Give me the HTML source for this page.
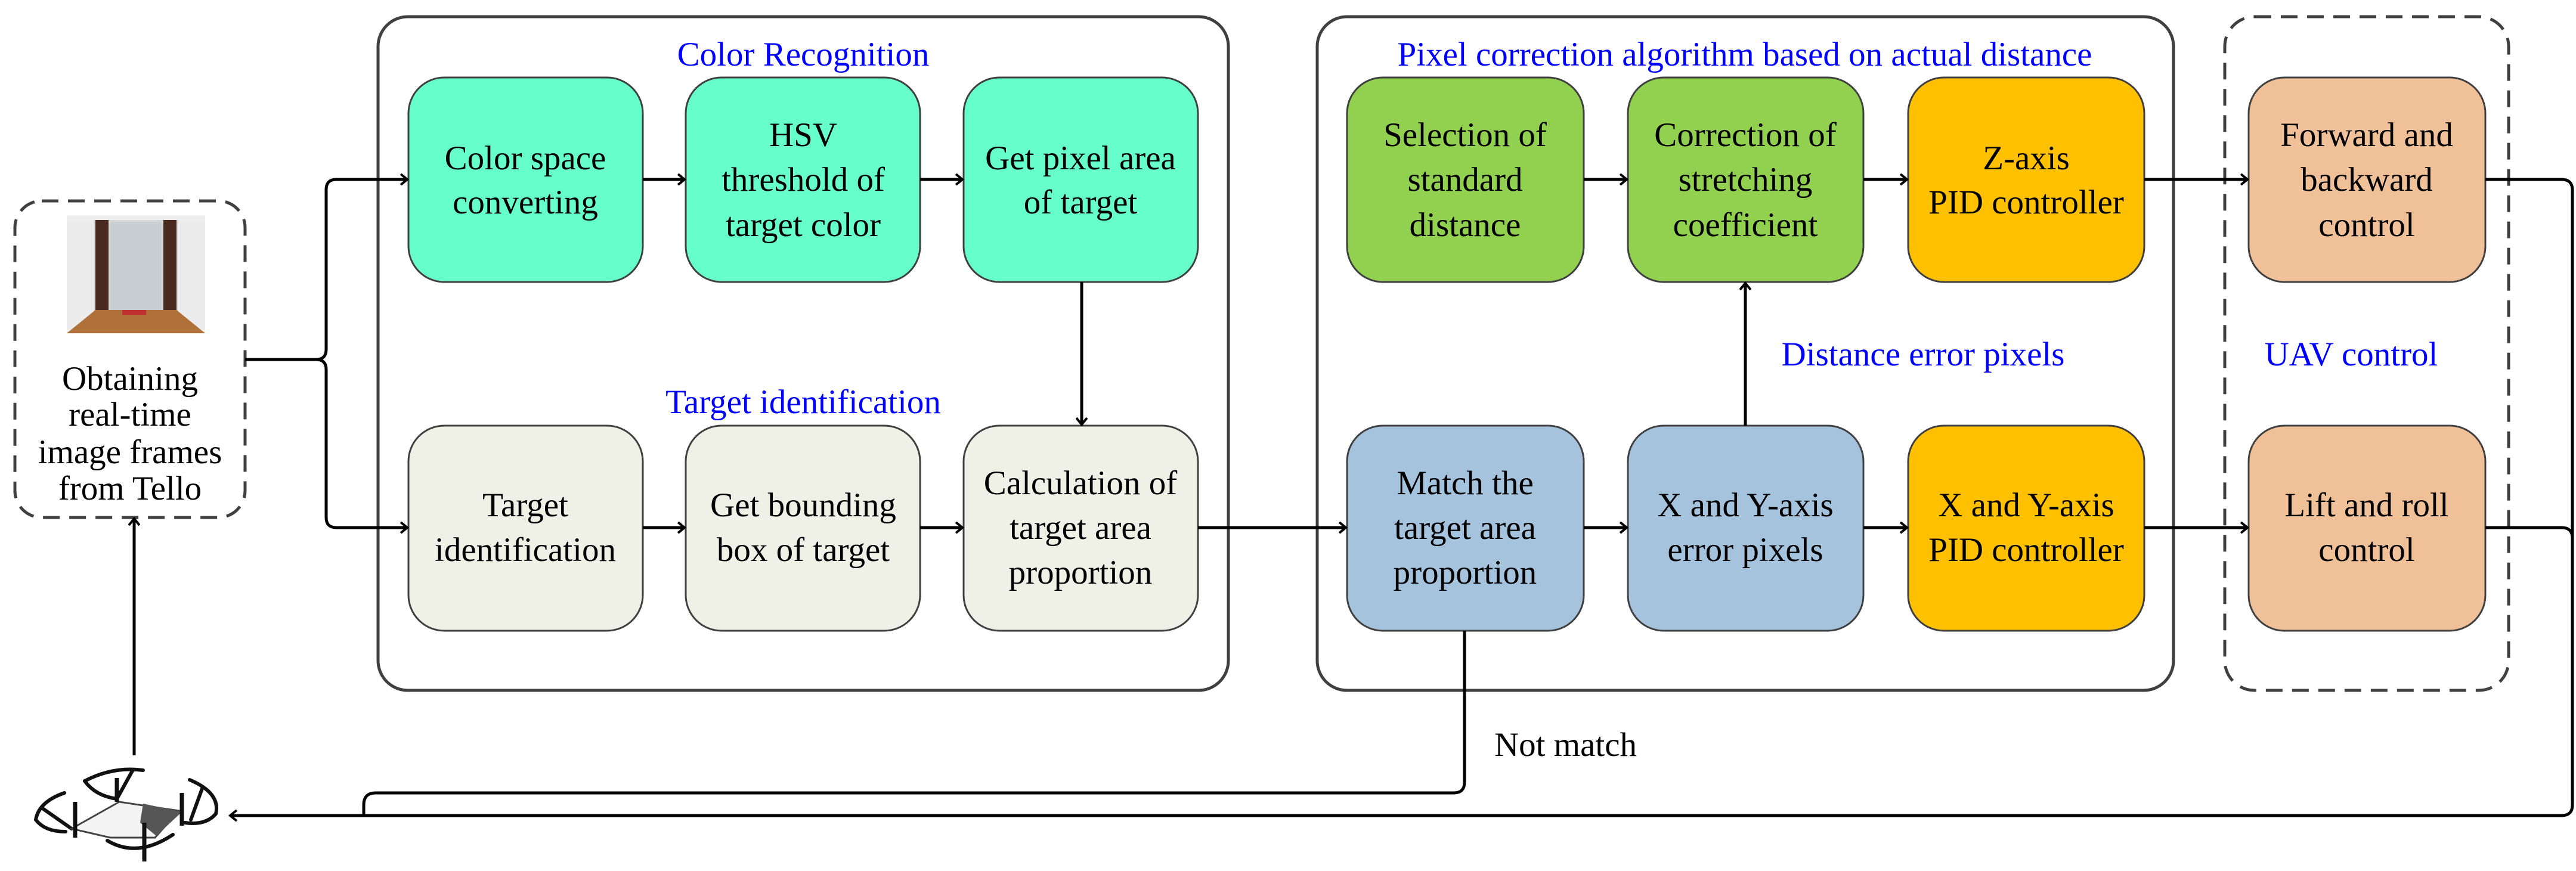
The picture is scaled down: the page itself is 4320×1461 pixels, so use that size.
<!DOCTYPE html>
<html><head><meta charset="utf-8"><style>
html,body{margin:0;padding:0;background:#fff;}
svg{display:block;}
svg text{font-family:"Liberation Serif","Times New Roman","DejaVu Serif",serif;font-size:57px;text-anchor:middle;fill:#000;}
svg text.b{fill:#0000ff;font-size:57px;}
</style></head><body>
<svg width="4320" height="1461" viewBox="0 0 4320 1461" xmlns="http://www.w3.org/2000/svg" font-family="Liberation Serif, Times New Roman, DejaVu Serif, serif">
<defs>
<marker id="a" markerWidth="16" markerHeight="20" refX="13" refY="10" orient="auto" markerUnits="userSpaceOnUse">
<path d="M2,1 L13,10 L2,19" fill="none" stroke="#000" stroke-width="4"/>
</marker>
</defs>
<rect x="634" y="28" width="1426" height="1130" rx="50" fill="none" stroke="#404040" stroke-width="5"/>
<rect x="2209" y="28" width="1436" height="1130" rx="50" fill="none" stroke="#404040" stroke-width="5"/>
<rect x="3731" y="28" width="476" height="1130" rx="50" fill="none" stroke="#404040" stroke-width="5" stroke-dasharray="28,16"/>
<rect x="25" y="337" width="386" height="531" rx="45" fill="none" stroke="#404040" stroke-width="5" stroke-dasharray="28,16"/>
<rect x="112" y="361" width="232" height="198" fill="#d8d8d8"/>
<rect x="112" y="361" width="232" height="8" fill="#eee"/>
<rect x="112" y="369" width="45" height="190" fill="#ececec"/>
<rect x="299" y="369" width="45" height="190" fill="#ececec"/>
<rect x="160" y="369" width="22" height="165" fill="#4a2a1e"/>
<rect x="274" y="369" width="22" height="165" fill="#4a2a1e"/>
<rect x="185" y="372" width="86" height="160" fill="#c8ced2"/>
<polygon points="112,559 344,559 296,520 160,520" fill="#b0703a"/>
<rect x="205" y="520" width="40" height="8" fill="#c03030"/>
<text class="b" x="1347" y="110">Color Recognition</text>
<text class="b" x="1347" y="693">Target identification</text>
<text class="b" x="2926" y="110">Pixel correction algorithm based on actual distance</text>
<text class="b" x="3225" y="613">Distance error pixels</text>
<text class="b" x="3943" y="613">UAV control</text>
<text x="218" y="654">Obtaining</text>
<text x="218" y="714">real-time</text>
<text x="218" y="777">image frames</text>
<text x="218" y="838">from Tello</text>
<g stroke="#404040" stroke-width="3">
<rect x="685" y="130" width="393" height="343" rx="60" fill="#66ffcc"/>
<rect x="1150" y="130" width="393" height="343" rx="60" fill="#66ffcc"/>
<rect x="1616" y="130" width="393" height="343" rx="60" fill="#66ffcc"/>
<rect x="685" y="714" width="393" height="344" rx="60" fill="#eff1e7"/>
<rect x="1150" y="714" width="393" height="344" rx="60" fill="#eff1e7"/>
<rect x="1616" y="714" width="393" height="344" rx="60" fill="#eff1e7"/>
<rect x="2259" y="130" width="397" height="343" rx="60" fill="#92d050"/>
<rect x="2730" y="130" width="395" height="343" rx="60" fill="#92d050"/>
<rect x="3200" y="130" width="396" height="343" rx="60" fill="#ffc000"/>
<rect x="2259" y="714" width="397" height="344" rx="60" fill="#a6c3de"/>
<rect x="2730" y="714" width="395" height="344" rx="60" fill="#a6c3de"/>
<rect x="3200" y="714" width="396" height="344" rx="60" fill="#ffc000"/>
<rect x="3771" y="130" width="397" height="343" rx="60" fill="#f0c098"/>
<rect x="3771" y="714" width="397" height="344" rx="60" fill="#f0c098"/>
</g>
<text x="881" y="284">Color space</text><text x="881" y="358">converting</text>
<text x="1347" y="245">HSV</text><text x="1347" y="320">threshold of</text><text x="1347" y="396">target color</text>
<text x="1812" y="284">Get pixel area</text><text x="1812" y="358">of target</text>
<text x="881" y="866">Target</text><text x="881" y="941">identification</text>
<text x="1347" y="866">Get bounding</text><text x="1347" y="941">box of target</text>
<text x="1812" y="829">Calculation of</text><text x="1812" y="904">target area</text><text x="1812" y="979">proportion</text>
<text x="2457" y="245">Selection of</text><text x="2457" y="320">standard</text><text x="2457" y="396">distance</text>
<text x="2927" y="245">Correction of</text><text x="2927" y="320">stretching</text><text x="2927" y="396">coefficient</text>
<text x="3398" y="284">Z-axis</text><text x="3398" y="358">PID controller</text>
<text x="2457" y="829">Match the</text><text x="2457" y="904">target area</text><text x="2457" y="979">proportion</text>
<text x="2927" y="866">X and Y-axis</text><text x="2927" y="941">error pixels</text>
<text x="3398" y="866">X and Y-axis</text><text x="3398" y="941">PID controller</text>
<text x="3969" y="245">Forward and</text><text x="3969" y="320">backward</text><text x="3969" y="396">control</text>
<text x="3969" y="866">Lift and roll</text><text x="3969" y="941">control</text>
<text x="2506" y="1268" style="text-anchor:start">Not match</text>
<g fill="none" stroke="#000" stroke-width="5">
<path d="M411,603 H530 Q547,603 547,586 V318 Q547,301 564,301 H683" marker-end="url(#a)"/>
<path d="M530,603 Q547,603 547,620 V868 Q547,885 564,885 H683" marker-end="url(#a)"/>
<path d="M1078,301 H1148" marker-end="url(#a)"/>
<path d="M1543,301 H1614" marker-end="url(#a)"/>
<path d="M1078,885 H1148" marker-end="url(#a)"/>
<path d="M1543,885 H1614" marker-end="url(#a)"/>
<path d="M1814,473 V712" marker-end="url(#a)"/>
<path d="M2009,885 H2257" marker-end="url(#a)"/>
<path d="M2656,301 H2728" marker-end="url(#a)"/>
<path d="M3125,301 H3198" marker-end="url(#a)"/>
<path d="M2656,885 H2728" marker-end="url(#a)"/>
<path d="M3125,885 H3198" marker-end="url(#a)"/>
<path d="M2927,714 V475" marker-end="url(#a)"/>
<path d="M3596,301 H3769" marker-end="url(#a)"/>
<path d="M3596,885 H3769" marker-end="url(#a)"/>
<path d="M4168,301 H4296 Q4314,301 4314,319 V1350 Q4314,1368 4296,1368 H386" marker-end="url(#a)"/>
<path d="M4168,885 H4296 Q4314,885 4314,903"/>
<path d="M2456,1058 V1312 Q2456,1330 2438,1330 H630 Q610,1330 610,1350 V1368"/>
<path d="M225,1267 V870" marker-end="url(#a)"/>
</g>
<g fill="none" stroke="#111" stroke-width="6" stroke-linecap="round">
<path d="M142,1310 Q190,1285 240,1292"/>
<path d="M142,1310 Q160,1335 196,1340 L222,1293"/>
<path d="M108,1330 Q65,1345 60,1375 Q75,1395 110,1395"/>
<path d="M318,1308 Q370,1330 362,1365 Q345,1385 310,1380"/>
<path d="M180,1410 Q230,1440 290,1400"/>
<line x1="70" y1="1355" x2="120" y2="1390"/>
<line x1="340" y1="1320" x2="320" y2="1375"/>
</g>
<path d="M120,1390 L200,1345 L300,1360 L260,1405 L185,1405 Z" fill="#f4f4f4" stroke="#444" stroke-width="3"/>
<path d="M240,1348 L305,1362 L262,1402 L235,1380 Z" fill="#555"/>
<g stroke="#111" stroke-width="7">
<line x1="196" y1="1305" x2="196" y2="1345"/><line x1="126" y1="1345" x2="126" y2="1405"/>
<line x1="305" y1="1330" x2="305" y2="1385"/><line x1="242" y1="1380" x2="242" y2="1445"/>
</g>
</svg>
</body></html>
